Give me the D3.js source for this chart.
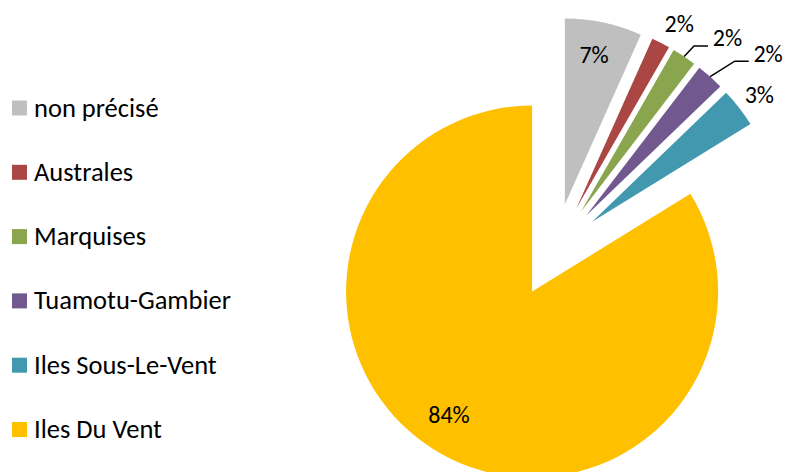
<!DOCTYPE html>
<html>
<head>
<meta charset="utf-8">
<script src="https://cdn.jsdelivr.net/npm/d3@7"></script>
<style>
  html, body { margin: 0; padding: 0; background: #fff; }
  svg { display: block; }
  text { font-family: Carlito, Calibri, Lato, sans-serif; fill: #000; }
</style>
</head>
<body>
<svg id="chart" width="786" height="472"></svg>
<script>
// Répartition par archipel
const categories = ["non précisé", "Australes", "Marquises", "Tuamotu-Gambier", "Iles Sous-Le-Vent", "Iles Du Vent"];
const values     = [6.7, 1.6, 2.1, 2.4, 3.4, 83.8];
const colors     = ["#BFBFBF", "#AA4643", "#89A54E", "#71588F", "#4198AF", "#FFC000"];

// label placement per slice: inside / outside, radial factor, angular nudge (deg), leader line
const labelLayout = [
  { inside: true,  k: 0.82, nudge: -1 },
  { inside: false, k: 1.14, nudge: 2 },
  { inside: false, k: 1.22, nudge: 6.5, leader: true },
  { inside: false, k: 1.31, nudge: 6.5, leader: true },
  { inside: false, k: 1.13, nudge: 0.5 },
  { inside: true,  k: 0.80, nudge: 4.8 }
];

const W = 786, H = 472;
const cx = 555, cy = 250.5;   // pie centre
const R = 186;                // radius
const explode = 47;           // every slice pulled out along its bisector
const labelSize = 24;
const legendSize = 26.5;

const svg = d3.select("#chart");
const total = d3.sum(values);
const pct = d3.format(".0%");

const pie = d3.pie().sort(null).value(d => d)(values);
const arc = d3.arc().innerRadius(0).outerRadius(R);

const offset = (a, r) => [Math.sin(a) * r, -Math.cos(a) * r];

const g = svg.append("g").attr("transform", `translate(${cx},${cy})`);

const slices = g.selectAll("g.slice")
  .data(pie)
  .join("g")
  .attr("class", "slice")
  .attr("transform", d => {
    const m = (d.startAngle + d.endAngle) / 2;
    const [dx, dy] = offset(m, explode);
    return `translate(${dx},${dy})`;
  });

slices.append("path")
  .attr("d", arc)
  .attr("fill", (d, i) => colors[i]);

// data labels
slices.each(function (d, i) {
  const s = d3.select(this);
  const L = labelLayout[i];
  const m = (d.startAngle + d.endAngle) / 2;
  const a = m + L.nudge * Math.PI / 180;
  const [lx, ly] = offset(a, R * L.k);
  const label = pct(values[i] / total);
  if (L.leader) {
    const tw = labelSize * 1.2;
    const left = lx - tw / 2;
    const base = ly + labelSize * 0.33;
    const [sx, sy] = offset(m, R);
    s.append("polyline")
      .attr("points", [[sx, sy], [left - 19, base], [left - 5, base]].map(p => p.join(",")).join(" "))
      .attr("fill", "none")
      .attr("stroke", "#000")
      .attr("stroke-width", 1.5);
  }
  s.append("text")
    .attr("x", lx)
    .attr("y", ly)
    .attr("text-anchor", "middle")
    .attr("dominant-baseline", "central")
    .attr("font-size", labelSize)
    .text(label);
});

// legend
const legend = svg.append("g").attr("transform", "translate(12,108)");
const rowStep = 64.3;
const items = legend.selectAll("g.item")
  .data(categories)
  .join("g")
  .attr("class", "item")
  .attr("transform", (d, i) => `translate(0,${i * rowStep})`);
items.append("rect")
  .attr("x", 0).attr("y", -7.5)
  .attr("width", 15).attr("height", 15)
  .attr("fill", (d, i) => colors[i]);
items.append("text")
  .attr("x", 22)
  .attr("y", 8.5)
  .attr("font-size", legendSize)
  .text(d => d);
</script>
</body>
</html>
